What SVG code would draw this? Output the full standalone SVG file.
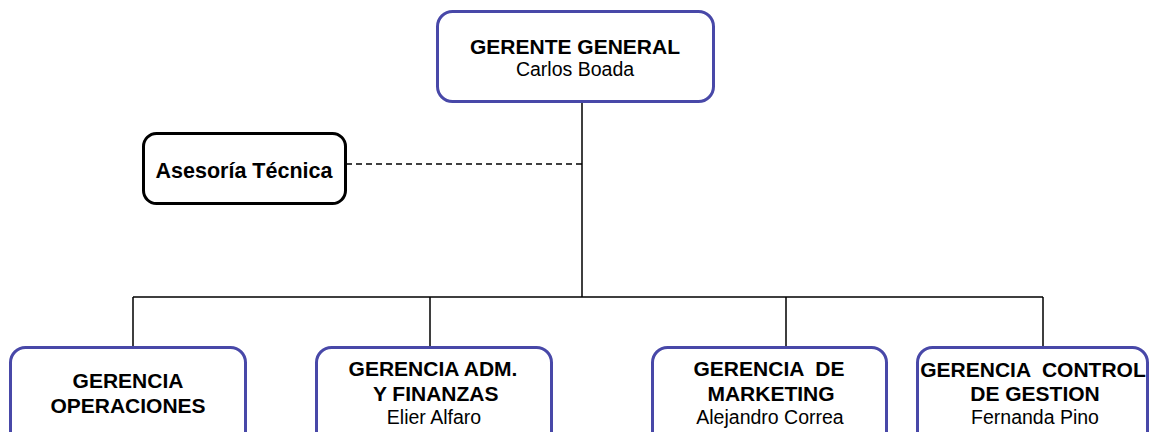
<svg xmlns="http://www.w3.org/2000/svg" width="1150" height="432" viewBox="0 0 1150 432">
<style>
.box{fill:#fff;stroke:#4848a8;stroke-width:3}
.box2{fill:#fff;stroke:#000;stroke-width:3}
.b{font-family:"Liberation Sans",Arial,sans-serif;font-weight:bold;font-size:21px;fill:#000;text-anchor:middle}
.r{font-family:"Liberation Sans",Arial,sans-serif;font-size:19.5px;fill:#000;text-anchor:middle}
.ln{stroke:#000;stroke-width:1.5;fill:none}
</style>
<rect width="1150" height="432" fill="#fff"/>
<g id="connectors">
<path class="ln" d="M582 102V297M133 297H1043M133 297V347M430 297V347M786 297V347M1043 297V347"/>
<path class="ln" d="M346 164H582" stroke-dasharray="6,4"/>
</g>
<g id="gerente">
<rect class="box" x="437.5" y="11.5" width="276" height="90" rx="15"/>
<text class="b" x="575" y="54">GERENTE GENERAL</text>
<text class="r" x="575" y="76">Carlos Boada</text>
</g>
<g id="asesoria">
<rect class="box2" x="143.5" y="133.5" width="202" height="70" rx="13"/>
<text class="b" x="244" y="178" style="font-size:21.5px">Asesoría Técnica</text>
</g>
<g id="operaciones">
<rect class="box" x="10.5" y="347.5" width="235" height="100" rx="15"/>
<text class="b" x="128" y="388">GERENCIA</text>
<text class="b" x="128" y="412.5">OPERACIONES</text>
</g>
<g id="finanzas">
<rect class="box" x="316.5" y="347.5" width="235" height="100" rx="15"/>
<text class="b" x="433" y="376">GERENCIA ADM.</text>
<text class="b" x="433" y="401" xml:space="preserve"> Y FINANZAS</text>
<text class="r" x="434" y="424">Elier Alfaro</text>
</g>
<g id="marketing">
<rect class="box" x="652.5" y="347.5" width="234" height="100" rx="15"/>
<text class="b" x="769" y="376" xml:space="preserve">GERENCIA  DE</text>
<text class="b" x="771" y="401">MARKETING</text>
<text class="r" x="770" y="424">Alejandro Correa</text>
</g>
<g id="control">
<rect class="box" x="917.5" y="347.5" width="230" height="100" rx="15"/>
<text class="b" x="1033" y="377" xml:space="preserve">GERENCIA  CONTROL</text>
<text class="b" x="1035" y="401">DE GESTION</text>
<text class="r" x="1035" y="424">Fernanda Pino</text>
</g>
</svg>
